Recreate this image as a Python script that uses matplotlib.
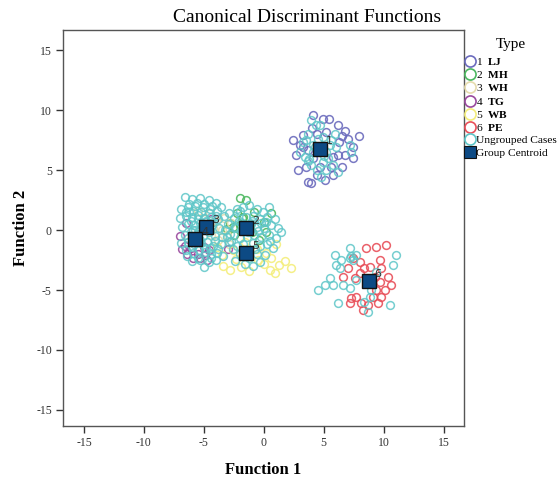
import matplotlib
matplotlib.use("Agg")
import matplotlib.pyplot as plt
from matplotlib.lines import Line2D

plt.rcParams['font.family'] = ['Liberation Serif', 'DejaVu Serif']
plt.rcParams['mathtext.fontset'] = 'custom'
plt.rcParams['mathtext.rm'] = 'Liberation Serif'
plt.rcParams['mathtext.bf'] = 'Liberation Serif:bold'
plt.rcParams['axes.unicode_minus'] = False

# ---- data ----
group_names = ["LJ", "MH", "WH", "TG", "WB", "PE"]
group_ids = ["1", "2", "3", "4", "5", "6"]

centroid_x = [4.7, -1.45, -4.8, -5.7, -1.45, 8.75]
centroid_y = [6.8, 0.17, 0.28, -0.75, -1.9, -4.25]

lj_x = [2.44, 2.67, 2.86, 4.1, 4.94, 5.4, 6.2, 6.75, 6.5, 7.95, 6.3, 7.4, 6.75, 7.45, 5.8, 6.2,
        3.3, 3.0, 3.7, 4.1, 3.55, 4.67, 5.6, 6.5, 5.8, 3.7, 3.97, 5.1, 4.4, 3.3, 4.4, 4.0, 5.2, 7.0]
lj_y = [7.56, 6.3, 5.0, 9.6, 9.3, 9.25, 8.8, 8.3, 7.85, 7.85, 7.36, 6.95, 6.3, 6.0, 6.1, 6.25,
        6.95, 7.1, 6.67, 6.0, 5.3, 5.3, 5.3, 5.3, 4.6, 4.0, 3.9, 4.2, 4.6, 7.9, 8.05, 8.5, 8.2, 7.6]

mh_x = [-1.5, -2.2, -2.8, -0.8, 0.0, -2.5, -1.0, -2.0, 0.6, -0.4, -3.1, -1.8, 0.2, -2.56, -1.75, -2.0]
mh_y = [2.5, 1.4, 0.6, 1.5, 0.7, -0.4, -0.2, 0.4, 1.4, -0.8, 0.1, 1.0, -0.2, 0.28, 1.1, 2.65]

wh_x = [-4.0, -3.5, -4.5, -3.1, -5.5, -3.8, -2.7, -4.2, -5.0, -3.3, -2.9, -4.4]
wh_y = [0.8, 0.0, 1.4, -0.4, 1.6, -0.8, 0.6, 0.2, 0.9, 1.0, -1.2, -0.4]

tg_x = [-6.8, -6.4, -5.9, -5.3, -4.9, -4.6, -6.6, -5.5, -7.0, -4.7, -6.1, -3.0, -6.5, -4.4, -5.0]
tg_y = [-1.6, -2.0, -2.3, -2.3, -2.1, -1.7, -1.3, -2.0, -0.5, -2.5, -1.5, -1.6, 0.6, 0.9, -1.4]

wb_x = [-3.4, -2.8, -2.3, -1.9, -1.2, -0.5, 0.0, 0.5, 1.3, 0.9, 0.2, -0.6, -3.9, -3.5, 1.0, -1.6,
        -2.6, 0.6, 1.8, 2.3]
wb_y = [-3.0, -3.3, -2.4, -3.1, -3.4, -2.5, -2.8, -3.3, -2.9, -3.6, -1.9, -1.6, -1.4, -2.1, -1.2, -1.0,
        -1.7, -2.3, -2.6, -3.2]

pe_x = [8.56, 9.4, 10.2, 9.67, 9.8, 8.83, 8.4, 8.0, 10.36, 10.6, 10.1, 9.4, 9.8, 9.53, 8.7, 8.14,
        7.72, 7.3, 8.28, 7.17, 6.6, 7.03, 7.58, 9.25, 9.67, 8.0, 7.44, 9.1]
pe_y = [-1.53, -1.39, -1.25, -2.5, -3.2, -3.06, -3.2, -3.6, -3.9, -4.6, -5.0, -5.0, -5.56, -6.1, -6.25, -6.1,
        -5.56, -5.7, -6.67, -6.1, -3.9, -3.2, -4.0, -3.9, -4.3, -2.64, -2.36, -5.56]

ung_x = [
    # cluster near group 1
    3.97, 4.33, 3.7, 3.3, 3.55, 4.5, 4.9, 5.9, 6.05, 7.17, 7.3, 3.7, 3.97, 4.94, 5.2, 4.4,
    4.8, 5.8, 6.2, 4.1, 5.2, 5.5, 3.0, 3.4, 4.67, 4.1, 5.36, 4.3, 5.0, 3.8, 5.6,
    # cluster near group 6
    7.17, 5.9, 7.72, 6.47, 7.17, 6.05, 6.33, 11.05, 10.8, 5.5, 5.08, 4.5, 5.78, 6.6, 7.17, 6.2,
    8.83, 8.97, 9.4, 8.4, 8.7, 10.5, 7.72, 7.44, 7.3,
    # left cluster, left blob
    -6.6, -6.0, -5.3, -4.6, -4.0, -6.9, -6.3, -5.7, -5.1, -4.5, -3.9, -7.0, -6.5, -6.0, -5.5, -5.0,
    -4.4, -3.8, -3.3, -6.8, -6.3, -5.8, -5.3, -4.9, -4.3, -3.7, -6.6, -6.1, -5.6, -5.1, -4.6, -4.1,
    -3.5, -6.9, -6.3, -5.8, -5.2, -4.7, -4.2, -3.6, -6.5, -5.9, -5.4, -4.9, -4.4, -3.9, -6.0, -5.3,
    -4.6, -4.0, -5.0, -3.4, -6.2, -5.4, -4.8, -5.9, -4.5, -6.4,
    -6.2, -5.6, -5.0, -4.3, -6.5, -5.9, -5.2, -4.6, -4.0, -6.1, -5.5, -4.8, -4.2, -5.7, -5.1, -4.5,
    -6.3, -5.3, -4.1, -6.0, -4.9, -3.8, -5.5, -4.4, -3.2, -2.9, -3.1, -3.6,
    # left cluster, right blob
    -3.0, -2.8, -2.9, -2.5, -2.3, -2.6, -2.0, -1.7, -1.2, -0.6, -0.1, 0.4, -2.1, -1.5, -0.9, -0.3,
    0.3, 0.9, -1.9, -1.1, -0.6, 0.0, 0.6, 1.2, -2.0, -1.4, -0.8, -0.2, 0.4, 1.0, -2.2, -1.7,
    -0.9, -0.3, 0.3, 0.8, -2.0, -1.2, -0.6, 0.1, -1.6, -0.9, -2.4, 1.4, -0.3,
    -1.8, -1.0, -0.2, -2.4, -1.3, -0.5, 0.2, -2.7, -1.6, -0.7, 0.5, -2.2]
ung_y = [
    9.17, 8.8, 8.05, 7.36, 7.5, 7.6, 7.8, 8.05, 6.95, 7.1, 6.5, 5.8, 5.4, 5.7, 5.0, 5.0,
    4.45, 5.4, 4.86, 6.5, 6.5, 7.1, 6.5, 6.1, 8.75, 7.1, 6.0, 6.9, 6.2, 5.9, 7.5,
    -1.47, -2.1, -2.1, -2.5, -2.36, -2.9, -3.2, -2.1, -2.9, -4.0, -4.6, -5.0, -4.6, -4.6, -4.86, -6.1,
    -5.56, -5.0, -3.47, -5.97, -6.8, -6.25, -4.17, -2.5, -2.2,
    2.8, 2.6, 2.7, 2.5, 2.3, 1.8, 1.9, 2.0, 1.9, 1.8, 1.6, 1.0, 1.2, 1.1, 1.3, 1.0,
    1.1, 0.9, 1.2, 0.3, 0.5, 0.4, 0.6, 0.3, 0.4, 0.2, -0.4, -0.2, -0.3, -0.5, -0.2, -0.5,
    -0.6, -1.1, -1.0, -1.2, -1.1, -1.0, -1.3, -1.2, -1.7, -1.9, -1.7, -1.8, -2.0, -1.9, -2.6, -2.5,
    -2.7, -2.5, -3.1, -2.2, 1.5, -0.1, 0.7, 0.0, -1.5, -2.2,
    2.2, 2.3, 2.2, 2.0, 1.5, 1.6, 1.5, 1.4, 1.2, 0.8, 0.9, 0.8, 0.7, 0.0, 0.1, 0.0,
    -0.7, -0.8, -0.9, -1.4, -1.5, -1.6, -2.3, -2.3, 0.0, 1.4, -0.6, 1.9,
    0.5, -0.3, -1.0, 1.0, 0.2, -1.6, 1.6, 1.9, 2.1, 1.8, 1.5, 1.9, 0.8, 1.1, 1.2, 0.9,
    1.1, 0.9, 0.0, 0.5, 0.3, 0.2, 0.4, 0.2, -0.7, -0.6, -0.4, -0.6, -0.4, -0.7, -1.3, -1.2,
    -1.1, -1.3, -1.2, -1.5, -2.0, -2.3, -2.0, -2.1, -2.8, -3.0, -2.6, -0.2, -2.7,
    0.6, 0.8, 0.6, 0.3, -0.2, -0.1, 0.7, -0.9, -1.7, -1.6, -0.9, 1.8]

x_ticks = [-15, -10, -5, 0, 5, 10, 15]
y_ticks = [-15, -10, -5, 0, 5, 10, 15]

# ---- styles ----
colors = ["#6b6bbd", "#4cb860", "#e6dcae", "#9a4a9e", "#f4ee7c", "#e8505a"]
ung_color = "#5ec6c8"
centroid_color = "#0d4a84"

W, H = 559, 478
fig = plt.figure(figsize=(W / 100, H / 100), dpi=100)
ax = fig.add_axes([63 / W, 1 - 426 / H, (464 - 63) / W, (426 - 30) / H])

groups = [(lj_x, lj_y), (mh_x, mh_y), (wh_x, wh_y), (tg_x, tg_y), (wb_x, wb_y), (pe_x, pe_y)]
ms = 5.6
mew = 1.1
for (gx, gy), c in zip(groups, colors):
    ax.plot(gx, gy, 'o', ms=ms, mfc='none', mec=c, mew=mew, alpha=0.9, zorder=2)
ax.plot(ung_x, ung_y, 'o', ms=ms, mfc='none', mec=ung_color, mew=mew, alpha=0.85, zorder=3)
ax.plot(centroid_x, centroid_y, 's', ms=10, mfc=centroid_color, mec='#111111', mew=1.0, zorder=5)
for cx, cy, lab in zip(centroid_x, centroid_y, group_ids):
    ax.annotate(lab, (cx, cy), xytext=(4, 3), textcoords='offset points', fontsize=8,
                color='#333333', family='DejaVu Sans', zorder=6)

ax.set_xlim(-16.75, 16.7)
ax.set_ylim(-16.35, 16.7)
ax.set_xticks(x_ticks)
ax.set_yticks(y_ticks)
ax.tick_params(direction='out', length=5, width=1, labelsize=8.5, colors='#333333', pad=3)
ax.tick_params(top=False, right=False)
for s in ax.spines.values():
    s.set_color('#555555')
    s.set_linewidth(1.0)

ax.set_xlabel("Function 1", fontsize=12, fontweight='bold', labelpad=9)
ax.set_ylabel("Function 2", fontsize=12, fontweight='bold', labelpad=5)
fig.text(307 / W, 1 - 18 / H, "Canonical Discriminant Functions", fontsize=14,
         ha='center', va='center')

# ---- legend ----
handles = []
labels = []
for gid, name, c in zip(group_ids, group_names, colors):
    handles.append(Line2D([], [], ls='none', marker='o', ms=8, mfc='none', mec=c, mew=1.2))
    labels.append(gid + r"  $\mathbf{" + name + "}$")
handles.append(Line2D([], [], ls='none', marker='o', ms=8, mfc='none', mec=ung_color, mew=1.2))
labels.append("Ungrouped Cases")
handles.append(Line2D([], [], ls='none', marker='s', ms=9, mfc=centroid_color, mec='#111111', mew=0.8))
labels.append("Group Centroid")

leg = fig.legend(handles, labels, loc='upper left', bbox_to_anchor=(461 / W, 1 - 37 / H),
                 frameon=False, fontsize=8.2, title="Type", title_fontsize=11,
                 handlelength=0.9, handletextpad=0.15, labelspacing=0.2, borderaxespad=0,
                 borderpad=0.3)
leg.get_title().set_y(2)

fig.savefig("out.png", dpi=100)
